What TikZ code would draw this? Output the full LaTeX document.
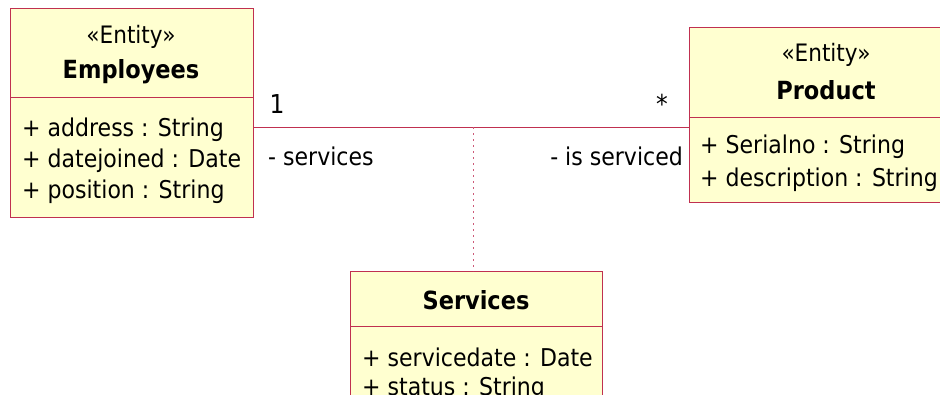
\documentclass[tikz,border=0pt]{standalone}
\usepackage{fontspec}
\setmainfont{DejaVu Sans Condensed}
\definecolor{boxfill}{RGB}{255,255,208}
\definecolor{boxline}{RGB}{192,48,80}
\definecolor{dotline}{RGB}{205,90,120}
\tikzset{
  umlbox/.style={draw=boxline, fill=boxfill, line width=0.9pt, rectangle, inner sep=0pt},
  divider/.style={draw=boxline, line width=0.9pt},
  attr/.style={anchor=west, inner sep=0pt, font=\fontsize{24.5}{29}\selectfont},
  stereo/.style={inner sep=0pt, font=\fontsize{24}{29}\selectfont},
  cname/.style={inner sep=0pt, font=\fontsize{25}{30}\selectfont\bfseries},
  assoc/.style={draw=boxline, line width=0.9pt},
  depend/.style={draw=dotline, line width=1pt, dash pattern=on 2pt off 4pt},
  mult/.style={inner sep=0pt, font=\fontsize{26}{30}\selectfont},
  role/.style={inner sep=0pt, font=\fontsize{24.5}{29}\selectfont}
}
\begin{document}
\begin{tikzpicture}[x=1pt,y=-1pt]
\useasboundingbox (0,0) rectangle (940,394);
\clip (0,0) rectangle (940,394);
\fill[white] (0,0) rectangle (940,394);
% Employees
\node[umlbox, anchor=north west, minimum width=243pt, minimum height=209pt] (emp) at (10,8) {};
\draw[divider] (emp.west |- 0,97) -- (emp.east |- 0,97);
\node[stereo] (empst) at (131,37) {«Entity»};
\node[cname] (empnm) at (131,72) {Employees};
\node[attr] (empa1) at (22,130) {+ address : String};
\node[attr] (empa2) at (22,161) {+ datejoined : Date};
\node[attr] (empa3) at (22,192) {+ position : String};
% Product
\node[umlbox, anchor=north west, minimum width=274pt, minimum height=175pt] (prod) at (689,27) {};
\draw[divider] (prod.west |- 0,117) -- (prod.east |- 0,117);
\node[stereo] (prodst) at (826,55) {«Entity»};
\node[cname] (prodnm) at (826,90) {Product};
\node[attr] (proda1) at (700,147) {+ Serialno : String};
\node[attr] (proda2) at (700,180) {+ description : String};
% Services
\node[umlbox, anchor=north west, minimum width=252pt, minimum height=160pt] (serv) at (350,271) {};
\draw[divider] (serv.west |- 0,326) -- (serv.east |- 0,326);
\node[cname] (servnm) at (476,300) {Services};
\node[attr] (serva1) at (362,357) {+ servicedate : Date};
\node[attr] (serva2) at (362,389) {+ status : String};
% Association
\coordinate (aL) at (emp.east |- 0,127);
\coordinate (aR) at (prod.west |- 0,127);
\draw[assoc] (aL) -- (aR);
\coordinate (mid) at (473,127);
\draw[depend] (mid) -- (serv.north -| mid);
\node[mult] (m1) at (277,104) {1};
\node[mult] (m2) at (662,104) {*};
\node[role, anchor=west] (r1) at (268,156) {- services};
\node[role, anchor=east] (r2) at (683,156) {- is serviced};
\end{tikzpicture}
\end{document}
